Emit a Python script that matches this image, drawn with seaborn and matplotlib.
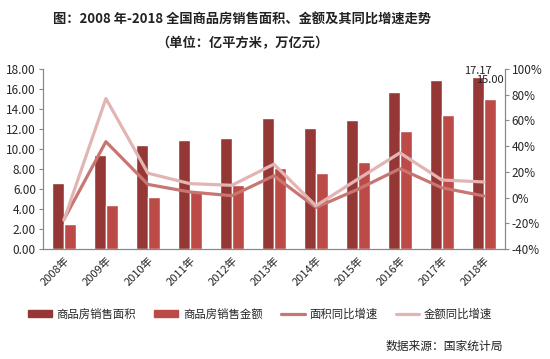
import numpy as np
import pandas as pd
import matplotlib
matplotlib.use("Agg")
import matplotlib.pyplot as plt
import seaborn as sns
from matplotlib.ticker import FuncFormatter, MultipleLocator, FixedLocator

years = ['2008年', '2009年', '2010年', '2011年', '2012年', '2013年',
         '2014年', '2015年', '2016年', '2017年', '2018年']
area = [6.6, 9.43, 10.43, 10.94, 11.13, 13.05, 12.06, 12.85, 15.73, 16.94, 17.17]
amount = [2.5, 4.43, 5.25, 5.8, 6.45, 8.14, 7.63, 8.73, 11.76, 13.37, 15.00]
area_growth = [-17.0, 43.5, 10.3, 4.4, 1.5, 17.0, -7.6, 6.5, 22.5, 7.7, 1.3]
amount_growth = [-17.5, 77.0, 19.0, 10.9, 9.6, 26.0, -6.3, 14.4, 34.8, 13.7, 12.2]

bar_names = ['商品房销售面积', '商品房销售金额']
line_names = ['面积同比增速', '金额同比增速']
bar_colors = ['#953735', '#BC4B48']
line_colors = ['#C87672', '#E2B5B4']

sns.set_style("white")
plt.rcParams['font.family'] = ['Noto Sans CJK SC', 'DejaVu Sans']
plt.rcParams['axes.unicode_minus'] = False

bars = pd.DataFrame({
    'year': years * 2,
    'value': area + amount,
    'series': [bar_names[0]] * len(years) + [bar_names[1]] * len(years),
})
lines = pd.DataFrame({
    'pos': list(range(len(years))) * 2,
    'growth': area_growth + amount_growth,
    'series': [line_names[0]] * len(years) + [line_names[1]] * len(years),
})

fig = plt.figure(figsize=(5.5, 3.59), dpi=100)
ax = fig.add_axes([0.078, 0.306, 0.840, 0.502])

sns.barplot(data=bars, x='year', y='value', hue='series', palette=bar_colors,
            width=0.57, gap=0, saturation=1, ax=ax, legend=False)
ax.set_xlim(-0.5, len(years) - 0.5)
ax.set_ylim(0, 18)
ax.yaxis.set_major_locator(MultipleLocator(2))
ax.yaxis.set_major_formatter(FuncFormatter(lambda v, p: f"{v:.2f}"))
ax.set_xlabel('')
ax.set_ylabel('')

# data labels for 2018
ax.annotate(f"{area[-1]:.2f}", (len(years) - 1 - 0.14, area[-1]), xytext=(0, 1),
            textcoords='offset points', ha='center', va='bottom', fontsize=8, color='#222222')
ax.annotate(f"{amount[-1]:.2f}", (len(years) - 1 + 0.14, amount[-1]), xytext=(0, 10),
            textcoords='offset points', ha='center', va='bottom', fontsize=8, color='#222222')

ax2 = ax.twinx()
sns.lineplot(data=lines, x='pos', y='growth', hue='series', palette=line_colors,
             linewidth=2.3, ax=ax2, legend=False)
ax2.set_ylim(-40, 100)
ax2.yaxis.set_major_locator(MultipleLocator(20))
ax2.yaxis.set_major_formatter(FuncFormatter(lambda v, p: f"{v:.0f}%"))
ax2.set_ylabel('')
ax2.set_xlabel('')
ax2.set_xlim(-0.5, len(years) - 0.5)

ax.set_xticks(range(len(years)))
ax.set_xticklabels(years, rotation=45, ha='right', rotation_mode='anchor', fontsize=8)
ax.xaxis.set_minor_locator(FixedLocator(np.arange(-0.5, len(years), 1)))
ax.tick_params(axis='x', which='major', length=0, pad=4)
ax.tick_params(axis='x', which='minor', length=4, color='#888888', direction='out')
ax.tick_params(axis='y', length=3, color='#888888', labelsize=8.5, direction='out', pad=2, left=True)
ax2.tick_params(axis='y', length=3, color='#888888', labelsize=8.5, direction='out', pad=2, right=True)

for a in (ax, ax2):
    a.spines['top'].set_visible(False)
    for s in ('left', 'right', 'bottom'):
        a.spines[s].set_color('#888888')
        a.spines[s].set_linewidth(0.8)
    a.grid(False)

fig.text(0.44, 0.945, '图：2008 年-2018 全国商品房销售面积、金额及其同比增速走势',
         ha='center', va='center', fontsize=9.5, fontweight='bold', color='#222222')
fig.text(0.44, 0.88, '（单位：亿平方米，万亿元）',
         ha='center', va='center', fontsize=9.5, fontweight='bold', color='#222222')

handles = [plt.Rectangle((0, 0), 1, 1, color=c) for c in bar_colors] + \
          [plt.Line2D([0], [0], color=c, linewidth=2.3) for c in line_colors]
fig.legend(handles, bar_names + line_names, loc='center', bbox_to_anchor=(0.473, 0.125),
           ncol=4, frameon=False, fontsize=8.2, handlelength=2.1, handleheight=0.6,
           columnspacing=1.6, handletextpad=0.4)

fig.text(0.915, 0.035, '数据来源：国家统计局', ha='right', va='center', fontsize=8.5, color='#222222')

fig.savefig('out.png', dpi=100)
